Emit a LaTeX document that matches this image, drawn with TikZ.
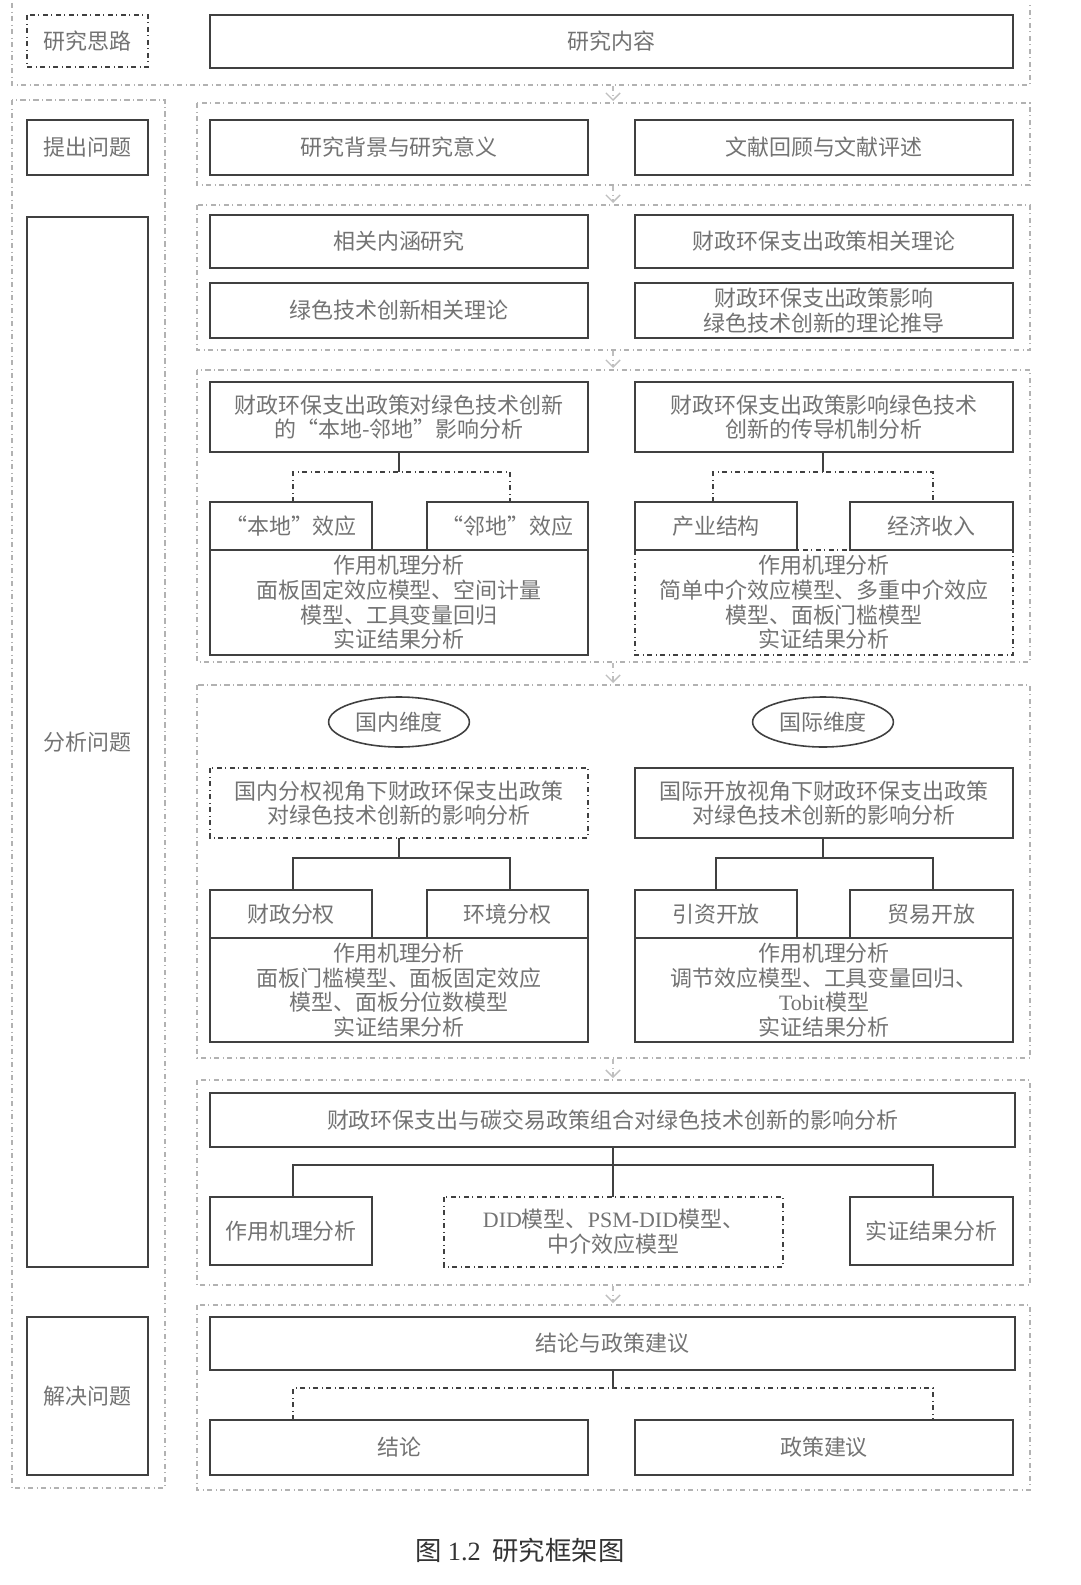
\documentclass[tikz,border=0pt]{standalone}
\usepackage{fontspec}
\setmainfont{Liberation Serif}
\newfontfamily\cjk{Noto Sans CJK SC}
\usetikzlibrary{shapes.geometric,arrows.meta}
\tikzset{
 px/.style={x=0.02cm,y=-0.02cm},
 bx/.style={draw=black!75,line width=0.9pt},
 dd/.style={dash dot,draw=black!75,line width=0.9pt},
 fr/.style={dash dot,draw=black!30,line width=0.8pt},
 tx/.style={font=\cjk\fontsize{12.5}{14}\selectfont,text=black!55,align=center},
 ln/.style={draw=black!75,line width=0.9pt},
 sar/.style={dash dot,draw=black!25,line width=0.8pt,-{Straight Barb[length=4pt]}},
}
\newcommand\B[6][bx]{\draw[#1] (#2,#3) rectangle (#4,#5); \node[tx] at ({(#2+#4)/2},{(#3+#5)/2}) {#6};}
\begin{document}
\begin{tikzpicture}[px]
\useasboundingbox (0,0) rectangle (1080,1585);
\fill[white] (0,0) rectangle (1080,1585);
% frames
\draw[fr] (12,3) -- (12,85) -- (1030,85) -- (1030,3);
\draw[fr] (12,100) rectangle (165,1488);
\draw[fr] (197,103) rectangle (1030,185);
\draw[fr] (197,205) rectangle (1030,350);
\draw[fr] (197,370) rectangle (1030,662);
\draw[fr] (197,685) rectangle (1030,1058);
\draw[fr] (197,1080) rectangle (1030,1285);
\draw[fr] (197,1305) rectangle (1030,1490);
% section arrows
\foreach \a/\b in {86/101,186/203,351/368,663/683,1059/1078,1286/1303}
  \draw[sar] (613,\a) -- (613,\b);
% header
\B[dd]{27}{15}{148}{67}{研究思路}
\B{210}{15}{1013}{68}{研究内容}
% left
\B{27}{120}{148}{175}{提出问题}
\B{27}{217}{148}{1267}{分析问题}
\B{27}{1317}{148}{1475}{解决问题}
% S1
\B{210}{120}{588}{175}{研究背景与研究意义}
\B{635}{120}{1013}{175}{文献回顾与文献评述}
% S2
\B{210}{215}{588}{268}{相关内涵研究}
\B{635}{215}{1013}{268}{财政环保支出政策相关理论}
\B{210}{283}{588}{338}{绿色技术创新相关理论}
\B{635}{283}{1013}{338}{财政环保支出政策影响\\绿色技术创新的理论推导}
% S3
\B{210}{382}{588}{452}{财政环保支出政策对绿色技术创新\\的“本地-邻地”影响分析}
\B{635}{382}{1013}{452}{财政环保支出政策影响绿色技术\\创新的传导机制分析}
\draw[ln] (399,452) -- (399,472); \draw[dd] (293,502) -- (293,472) -- (510,472) -- (510,502);
\draw[ln] (823,452) -- (823,472); \draw[dd] (713,502) -- (713,472) -- (933,472) -- (933,502);
\B{210}{502}{372}{550}{“本地”效应}
\B{427}{502}{588}{550}{“邻地”效应}
\B{210}{550}{588}{655}{作用机理分析\\面板固定效应模型、空间计量\\模型、工具变量回归\\实证结果分析}
\B{635}{502}{797}{550}{产业结构}
\B{850}{502}{1013}{550}{经济收入}
\B[dd]{635}{550}{1013}{655}{作用机理分析\\简单中介效应模型、多重中介效应\\模型、面板门槛模型\\实证结果分析}
% S4
\node[ellipse,draw=black!75,line width=0.9pt,minimum width=2.7cm,minimum height=1.0cm,tx] (e1) at (399,722) {国内维度};
\node[ellipse,draw=black!75,line width=0.9pt,minimum width=2.7cm,minimum height=1.0cm,tx] (e2) at (823,722) {国际维度};
\B[dd]{210}{768}{588}{838}{国内分权视角下财政环保支出政策\\对绿色技术创新的影响分析}
\B{635}{768}{1013}{838}{国际开放视角下财政环保支出政策\\对绿色技术创新的影响分析}
\draw[ln] (399,838) -- (399,858); \draw[ln] (293,890) -- (293,858) -- (510,858) -- (510,890);
\draw[ln] (823,838) -- (823,858); \draw[ln] (716,890) -- (716,858) -- (933,858) -- (933,890);
\B{210}{890}{372}{938}{财政分权}
\B{427}{890}{588}{938}{环境分权}
\B{210}{938}{588}{1042}{作用机理分析\\面板门槛模型、面板固定效应\\模型、面板分位数模型\\实证结果分析}
\B{635}{890}{797}{938}{引资开放}
\B{850}{890}{1013}{938}{贸易开放}
\B{635}{938}{1013}{1042}{作用机理分析\\调节效应模型、工具变量回归、\\{\rmfamily Tobit}模型\\实证结果分析}
% S5
\B{210}{1093}{1015}{1147}{财政环保支出与碳交易政策组合对绿色技术创新的影响分析}
\draw[ln] (613,1147) -- (613,1197); \draw[ln] (293,1197) -- (293,1165) -- (933,1165) -- (933,1197);
\B{210}{1197}{372}{1265}{作用机理分析}
\B[dd]{444}{1197}{783}{1267}{{\rmfamily DID}模型、{\rmfamily PSM-DID}模型、\\中介效应模型}
\B{850}{1197}{1013}{1265}{实证结果分析}
% S6
\B{210}{1317}{1015}{1370}{结论与政策建议}
\draw[ln] (613,1370) -- (613,1388); \draw[dd] (293,1420) -- (293,1388) -- (933,1388) -- (933,1420);
\B{210}{1420}{588}{1475}{结论}
\B{635}{1420}{1013}{1475}{政策建议}
% caption
\node[font=\cjk\fontsize{15}{17}\selectfont,text=black!80] at (520,1550) {图 {\rmfamily 1.2}\ \ 研究框架图};
\end{tikzpicture}
\end{document}
